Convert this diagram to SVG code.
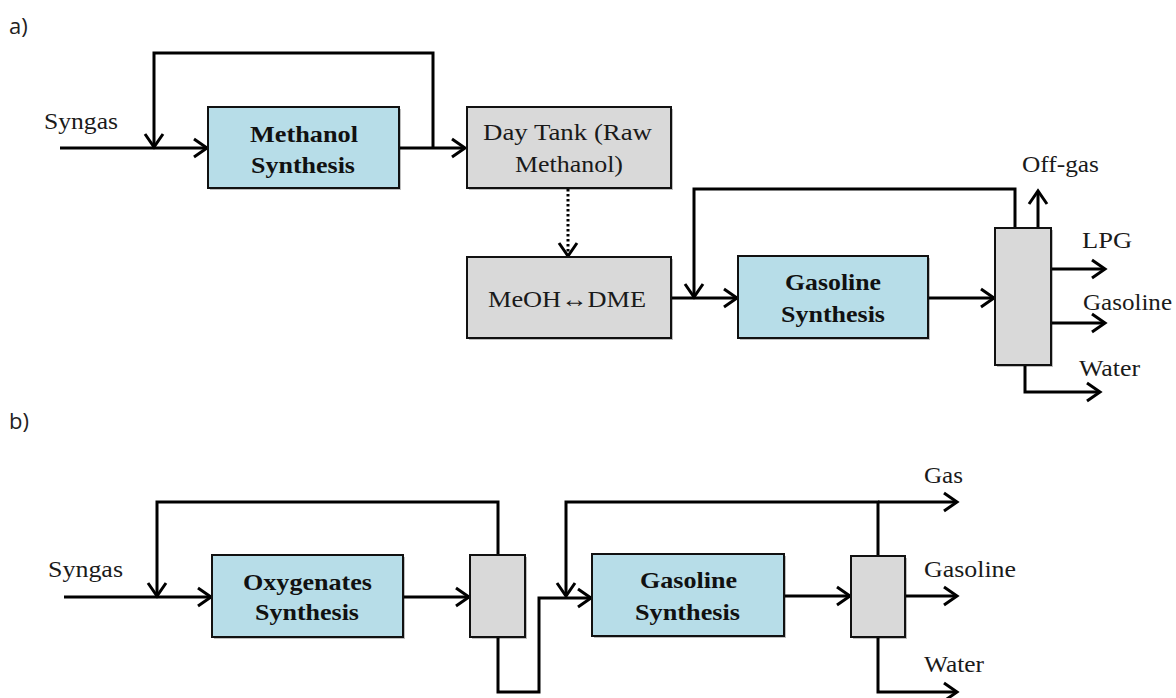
<svg xmlns="http://www.w3.org/2000/svg" width="1176" height="698" viewBox="0 0 1176 698">
<style>
.t{font-family:"Liberation Serif","Times New Roman",serif;font-size:24px;fill:#1a1a1a}
.b{font-family:"Liberation Serif","Times New Roman",serif;font-size:24px;font-weight:bold;fill:#111}
.p{font-family:"Open Sans",Lato,sans-serif;font-size:22px;fill:#222}
.blue{fill:#b7dde8;stroke:#111;stroke-width:2}
.gray{fill:#d9d9d9;stroke:#111;stroke-width:2}
.sh{fill:#000;opacity:0.25}
.c{fill:none;stroke:#000;stroke-width:3;marker-end:url(#ah)}
</style>
<defs>
<marker id="ah" markerUnits="userSpaceOnUse" markerWidth="30" markerHeight="30" viewBox="-22 -15 30 30" refX="0" refY="0" orient="auto">
<path d="M-13,-9 L0,0 L-13,9" fill="none" stroke="#000" stroke-width="3"/>
</marker>
</defs>
<rect width="1176" height="698" fill="#fff"/>
<text class="p" x="9" y="34">a)</text>
<text class="p" x="9" y="429">b)</text>

<g id="connectors">
<path class="c" d="M60,148 H207"/>
<path class="c" d="M433,148 V53 H154 V147"/>
<path class="c" d="M399,148 H465"/>
<path class="c" d="M568,189 V256" stroke-dasharray="2.5 2.5"/>
<path class="c" d="M671,298 H737"/>
<path class="c" d="M1015,228 V189 H694 V297"/>
<path class="c" d="M928,298 H994"/>
<path class="c" d="M1038,228 V191"/>
<path class="c" d="M1051,269 H1105"/>
<path class="c" d="M1051,323 H1105"/>
<path class="c" d="M1025,365 V392 H1100"/>

<path class="c" d="M64,597 H211"/>
<path class="c" d="M498,555 V502 H157 V596"/>
<path class="c" d="M403,597 H469"/>
<path class="c" d="M498,637 V692 H539 V598 H591"/>
<path class="c" d="M878,556 V502 H566 V596"/>
<path class="c" d="M878,502 H957"/>
<path class="c" d="M784,596 H850"/>
<path class="c" d="M905,596 H957"/>
<path class="c" d="M878,637 V692 H957"/>
</g>

<g id="methanol-synthesis">
<rect class="sh" x="210" y="109" width="191" height="81"/>
<rect class="blue" x="208" y="107" width="191" height="81"/>
<text class="b" x="250" y="142" textLength="108" lengthAdjust="spacingAndGlyphs">Methanol</text>
<text class="b" x="251" y="173" textLength="104" lengthAdjust="spacingAndGlyphs">Synthesis</text>
</g>
<g id="day-tank">
<rect class="sh" x="469" y="109" width="204" height="81"/>
<rect class="gray" x="467" y="107" width="204" height="81"/>
<text class="t" x="483" y="140" textLength="169" lengthAdjust="spacingAndGlyphs">Day Tank (Raw</text>
<text class="t" x="515" y="172" textLength="108" lengthAdjust="spacingAndGlyphs">Methanol)</text>
</g>
<g id="meoh-dme">
<rect class="sh" x="469" y="259" width="204" height="81"/>
<rect class="gray" x="467" y="257" width="204" height="81"/>
<text class="t" x="488" y="307" textLength="158" lengthAdjust="spacingAndGlyphs">MeOH↔DME</text>
</g>
<g id="gasoline-synthesis-a">
<rect class="sh" x="740" y="258" width="190" height="82"/>
<rect class="blue" x="738" y="256" width="190" height="82"/>
<text class="b" x="785" y="290" textLength="96" lengthAdjust="spacingAndGlyphs">Gasoline</text>
<text class="b" x="781" y="322" textLength="104" lengthAdjust="spacingAndGlyphs">Synthesis</text>
</g>
<g id="separator-a">
<rect class="sh" x="997" y="230" width="56" height="137"/>
<rect class="gray" x="995" y="228" width="56" height="137"/>
</g>
<g id="labels-a">
<text class="t" x="44" y="129" textLength="74" lengthAdjust="spacingAndGlyphs">Syngas</text>
<text class="t" x="1022" y="172" textLength="77" lengthAdjust="spacingAndGlyphs">Off-gas</text>
<text class="t" x="1082" y="248" textLength="50" lengthAdjust="spacingAndGlyphs">LPG</text>
<text class="t" x="1083" y="310" textLength="89" lengthAdjust="spacingAndGlyphs">Gasoline</text>
<text class="t" x="1079" y="376" textLength="61" lengthAdjust="spacingAndGlyphs">Water</text>
</g>

<g id="oxygenates-synthesis">
<rect class="sh" x="214" y="557" width="191" height="82"/>
<rect class="blue" x="212" y="555" width="191" height="82"/>
<text class="b" x="243" y="590" textLength="129" lengthAdjust="spacingAndGlyphs">Oxygenates</text>
<text class="b" x="255" y="620" textLength="104" lengthAdjust="spacingAndGlyphs">Synthesis</text>
</g>
<g id="separator-b1">
<rect class="sh" x="472" y="557" width="55" height="82"/>
<rect class="gray" x="470" y="555" width="55" height="82"/>
</g>
<g id="gasoline-synthesis-b">
<rect class="sh" x="594" y="556" width="192" height="82"/>
<rect class="blue" x="592" y="554" width="192" height="82"/>
<text class="b" x="640" y="588" textLength="97" lengthAdjust="spacingAndGlyphs">Gasoline</text>
<text class="b" x="635" y="620" textLength="105" lengthAdjust="spacingAndGlyphs">Synthesis</text>
</g>
<g id="separator-b2">
<rect class="sh" x="853" y="558" width="54" height="81"/>
<rect class="gray" x="851" y="556" width="54" height="81"/>
</g>
<g id="labels-b">
<text class="t" x="48" y="577" textLength="75" lengthAdjust="spacingAndGlyphs">Syngas</text>
<text class="t" x="924" y="483" textLength="39" lengthAdjust="spacingAndGlyphs">Gas</text>
<text class="t" x="924" y="577" textLength="92" lengthAdjust="spacingAndGlyphs">Gasoline</text>
<text class="t" x="924" y="672" textLength="60" lengthAdjust="spacingAndGlyphs">Water</text>
</g>
</svg>
